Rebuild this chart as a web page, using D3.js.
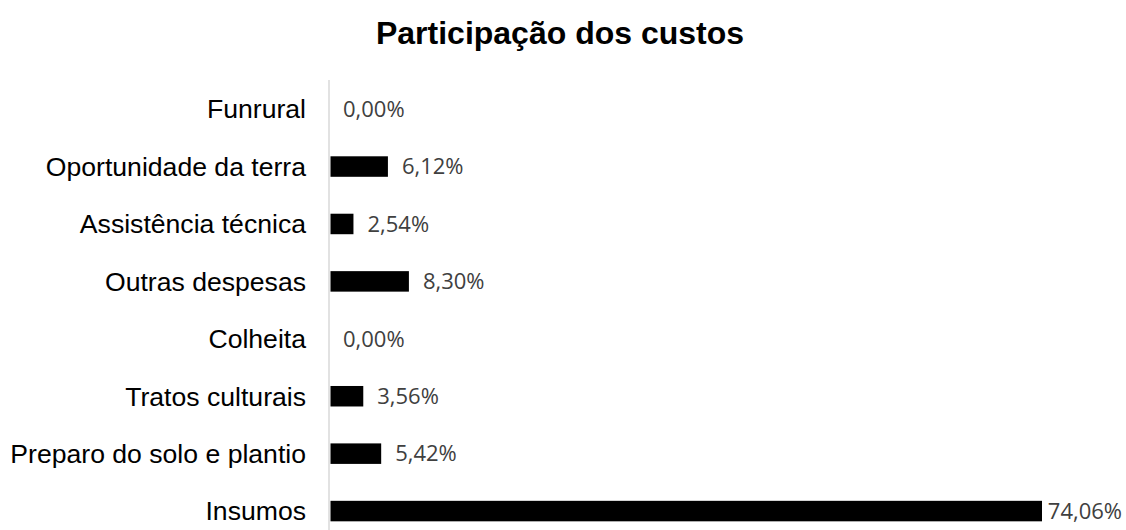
<!DOCTYPE html>
<html>
<head>
<meta charset="utf-8">
<script src="https://cdn.jsdelivr.net/npm/d3@7"></script>
<style>
  html, body { margin: 0; padding: 0; background: #fff; }
</style>
</head>
<body>
<svg id="chart" width="1126" height="530"></svg>
<script>
'use strict';

const categories = ['Funrural', 'Oportunidade da terra', 'Assistência técnica', 'Outras despesas',
    'Colheita', 'Tratos culturais', 'Preparo do solo e plantio', 'Insumos'];
const values = [0.00, 6.12, 2.54, 8.30, 0.00, 3.56, 5.42, 74.06];
const title = 'Participação dos custos';

const svg = d3.select('#chart');
const width = +svg.attr('width');

const x = d3.scaleLinear()
    .domain([0, 74.06])
    .range([329, 1042]);

const y = d3.scaleBand()
    .domain(categories)
    .range([80.5, 539.7])
    .paddingInner(0.643)
    .paddingOuter(0.32);

const fmt = (v) => d3.format('.2f')(v).replace('.', ',') + '%';
const labelGap = 14;
const axisGap = 1.5;

svg.append('text')
    .attr('x', 560)
    .attr('y', 44)
    .attr('text-anchor', 'middle')
    .style('font-family', '"Liberation Sans", Arial, sans-serif')
    .style('font-weight', 'bold')
    .style('font-size', '32px')
    .style('fill', '#000')
    .text(title);

const rows = categories.map((c, i) => ({ cat: c, value: values[i] }));

svg.selectAll('rect.bar').data(rows)
    .enter().append('rect')
    .attr('class', 'bar')
    .attr('x', x(0) + axisGap)
    .attr('y', (d) => y(d.cat))
    .attr('width', (d) => Math.max(0, x(d.value) - x(0) - axisGap))
    .attr('height', y.bandwidth())
    .attr('fill', '#000');

// vertical category axis line
svg.append('line')
    .attr('x1', x(0))
    .attr('x2', x(0))
    .attr('y1', 80)
    .attr('y2', 530)
    .attr('stroke', '#d9d9d9')
    .attr('stroke-width', 1.5);

svg.selectAll('text.cat').data(rows)
    .enter().append('text')
    .attr('class', 'cat')
    .attr('x', 306)
    .attr('y', (d) => y(d.cat) + y.bandwidth() / 2)
    .attr('dy', '0.35em')
    .attr('text-anchor', 'end')
    .style('font-family', '"Liberation Sans", Arial, sans-serif')
    .style('font-size', '26.6px')
    .style('fill', '#000')
    .text((d) => d.cat);

svg.selectAll('text.val').data(rows)
    .enter().append('text')
    .attr('class', 'val')
    .attr('y', (d) => y(d.cat) + y.bandwidth() / 2)
    .attr('dy', '0.35em')
    .style('font-family', '"Open Sans", "Noto Sans", sans-serif')
    .style('font-size', '22px')
    .style('fill', '#404040')
    .text((d) => fmt(d.value))
    .attr('x', function (d) {
        // keep the label inside the chart area, like the spreadsheet does
        const w = this.getComputedTextLength();
        return Math.min(x(d.value) + labelGap, width - 4 - w);
    });
</script>
</body>
</html>
